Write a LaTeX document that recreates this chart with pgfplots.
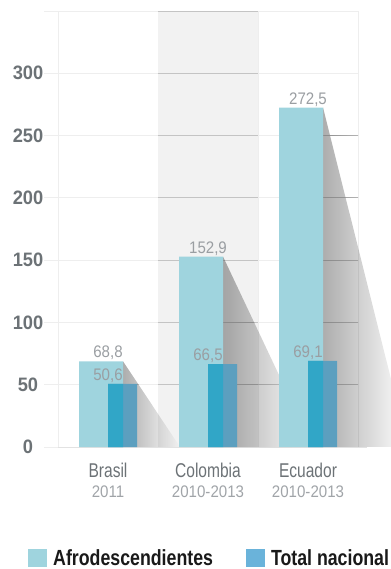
\documentclass[border=0pt]{standalone}
\usepackage{pgfplots}
\pgfplotsset{compat=1.18}
\usepackage{pgfplotstable}
\usetikzlibrary{fadings}
\usepackage{fontspec}
\setmainfont{Liberation Sans}
\newfontfamily\fYtick[FakeStretch=0.94]{Liberation Sans}
\newfontfamily\fCat[FakeStretch=0.78]{Liberation Sans}
\newfontfamily\fNum[FakeStretch=0.9]{Liberation Sans}
\newfontfamily\fLeg[FakeStretch=0.81]{Liberation Sans}
\newcommand\yrfont{\fNum\fontsize{16.8}{20}\selectfont\color{yr}}

\definecolor{afro}{HTML}{9FD4DE}
\definecolor{totL}{HTML}{31A6C7}
\definecolor{totR}{HTML}{5C9FBF}
\definecolor{totLeg}{HTML}{6AB3DA}
\definecolor{gridlt}{HTML}{EEEEEE}
\definecolor{colbg}{HTML}{F2F2F2}
\definecolor{griddk}{HTML}{C4C4C4}
\definecolor{base}{HTML}{E2E2E2}
\definecolor{tick}{HTML}{6C7276}
\definecolor{yr}{HTML}{A0A4A8}
\definecolor{val}{HTML}{9A9EA2}

% soft shadow cast to the right of each tall bar
\tikzfading[name=shadowfade, left color=transparent!0, middle color=transparent!75, right color=transparent!100]

% tasa por 100 000 nacidos vivos
\pgfplotstableread{
x afro total
0 68.8 50.6
1 152.9 66.5
2 272.5 69.1
}\datos

\pgfplotsset{
  valuelabels/.style={
    nodes near coords={\pgfmathprintnumber[fixed,fixed zerofill,precision=1,use comma,assume math mode=true]{\pgfplotspointmeta}},
    every node near coord/.append style={anchor=base, yshift=3.5bp, inner sep=0pt,
      font=\fNum\fontsize{16.8}{16.8}\selectfont, text=val}},
  shadow/.style={draw=none, fill=black, fill opacity=0.32, path fading=shadowfade, forget plot},
}

\begin{document}
\begin{tikzpicture}
\useasboundingbox (0,0) rectangle (391bp,569bp);
\begin{axis}[
  at={(44bp,122bp)}, anchor=south west,
  width=314bp, height=436bp, scale only axis,
  xmin=-0.64, xmax=2.5, ymin=0, ymax=350,
  clip=false,
  axis line style={draw=none},
  tick style={draw=none},
  ytick={0,50,...,350},
  yticklabels={0,50,100,150,200,250,300,{}},
  ymajorgrids,
  grid style={draw=gridlt, line width=0.8bp},
  xtick={0,1,2},
  xticklabels={{Brasil\\{\yrfont 2011}},{Colombia\\{\yrfont 2010-2013}},{Ecuador\\{\yrfont 2010-2013}}},
  extra x ticks={-0.5,0.5,1.5,2.5},
  extra x tick labels={},
  extra x tick style={grid=major},
  yticklabel style={font=\fYtick\bfseries\fontsize{19.5}{19.5}\selectfont, text=tick, anchor=center, xshift=-16bp, inner sep=0pt},
  xticklabel style={font=\fCat\fontsize{20}{20}\selectfont, text=tick, align=center, anchor=north, inner sep=0pt, yshift=-16bp},
  legend image code/.code={\fill[#1] (0bp,-8bp) rectangle (19bp,10bp);},
  legend style={at={(-0.051,-0.2545)}, anchor=west, draw=none, fill=none,
    inner sep=0pt, legend columns=2,
    font=\fLeg\bfseries\fontsize{22}{22}\selectfont, text=black!90,
    nodes={inner sep=0pt},
    /tikz/every odd column/.append style={column sep=6bp},
    /tikz/every even column/.append style={column sep=33bp}},
]
% shaded middle column
\fill[colbg] (axis cs:0.5,0) rectangle (axis cs:1.5,350);
\draw[griddk, line width=0.8bp] (axis cs:0.5,50) -- (axis cs:1.5,50)
  (axis cs:0.5,100) -- (axis cs:1.5,100) (axis cs:0.5,150) -- (axis cs:1.5,150)
  (axis cs:0.5,200) -- (axis cs:1.5,200) (axis cs:0.5,250) -- (axis cs:1.5,250)
  (axis cs:0.5,300) -- (axis cs:1.5,300) (axis cs:0.5,350) -- (axis cs:1.5,350);
\draw[base, line width=1bp] (axis cs:-0.5,0) -- (axis cs:2.59,0);

% shadows
\addplot[shadow] coordinates {(0.15,68.8) (0.15,0) (0.72,0)} -- cycle;
\addplot[shadow] coordinates {(1.15,152.9) (1.15,0) (2.05,0)} -- cycle;
\addplot[shadow] coordinates {(2.15,272.5) (2.15,0) (3.0,0)} -- cycle;

% grid lines show through the shadows a little darker
\begin{scope}
  \clip (axis cs:0.15,68.8) -- (axis cs:0.15,0) -- (axis cs:0.72,0) -- cycle;
  \draw[black!45, line width=0.8bp, path fading=shadowfade]
    (axis cs:0.15,50) -- (axis cs:0.72,50);
\end{scope}
\begin{scope}
  \clip (axis cs:1.15,152.9) -- (axis cs:1.15,0) -- (axis cs:2.05,0) -- cycle;
  \draw[black!45, line width=0.8bp, path fading=shadowfade]
    (axis cs:1.15,50) -- (axis cs:2.05,50) (axis cs:1.15,100) -- (axis cs:2.05,100)
    (axis cs:1.15,150) -- (axis cs:2.05,150);
\end{scope}
\begin{scope}
  \clip (axis cs:2.15,272.5) -- (axis cs:2.15,0) -- (axis cs:2.5,0) -- (axis cs:2.5,272.5) -- cycle;
  \draw[black!45, line width=0.8bp, path fading=shadowfade]
    (axis cs:2.15,50) -- (axis cs:3.0,50) (axis cs:2.15,100) -- (axis cs:3.0,100)
    (axis cs:2.15,150) -- (axis cs:3.0,150) (axis cs:2.15,200) -- (axis cs:3.0,200)
    (axis cs:2.15,250) -- (axis cs:3.0,250);
\end{scope}

% Afrodescendientes
\addplot[ybar, bar width=0.44, bar shift=-0.07, fill=afro, draw=none, forget plot, valuelabels]
  table[x=x, y=afro] {\datos};
% Total nacional
\addplot[ybar, bar width=0.29, bar shift=0.145, fill=totR, draw=none, forget plot, valuelabels]
  table[x=x, y=total] {\datos};
\addplot[ybar, bar width=0.15, bar shift=0.075, fill=totL, draw=none, forget plot]
  table[x=x, y=total] {\datos};

\addlegendimage{fill=afro, draw=none}
\addlegendentry{Afrodescendientes}
\addlegendimage{fill=totLeg, draw=none}
\addlegendentry{Total nacional}
\end{axis}
\end{tikzpicture}
\end{document}
